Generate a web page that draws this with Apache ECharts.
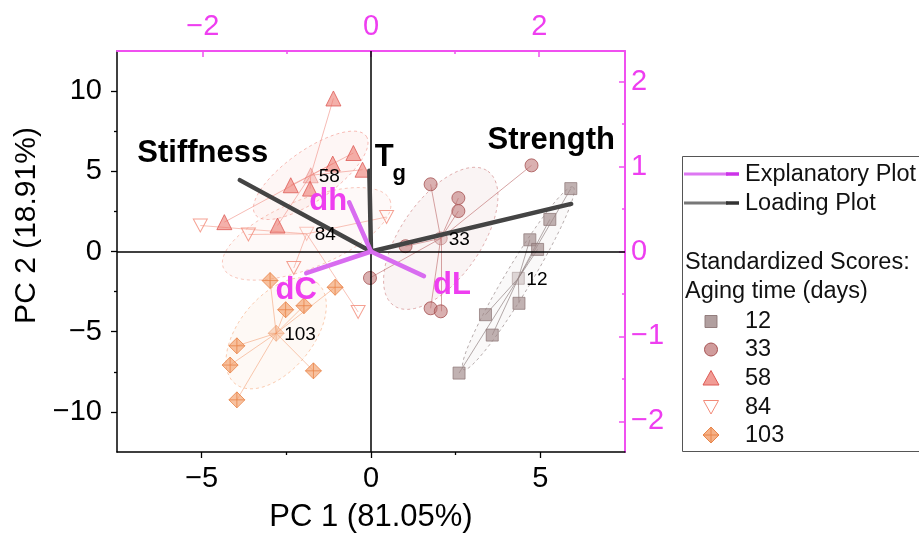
<!DOCTYPE html>
<html><head><meta charset="utf-8">
<script src="https://cdn.jsdelivr.net/npm/echarts@6/dist/echarts.min.js"></script>
<style>html,body{margin:0;padding:0;background:#fff}#c{width:919px;height:538px}</style>
</head><body><div id="c"></div>
<script>
// ---------- data ----------
const groups = ['12', '33', '58', '84', '103'];
const pc1_12 = [5.9, 5.28, 4.69, 4.92, 4.37, 3.38, 3.58, 2.6];
const pc2_12 = [3.92, 2.0, 0.73, 0.13, -3.23, -3.94, -5.21, -7.58];
const pc1_33 = [4.74, 1.76, 2.58, 2.58, 1.02, -0.03, 1.76, 2.06];
const pc2_33 = [5.37, 4.19, 3.33, 2.52, 0.33, -1.65, -3.54, -3.73];
const pc1_58 = [-1.11, -0.52, -1.13, -0.25, -2.37, -1.8, -4.33, -2.76];
const pc2_58 = [9.54, 6.14, 5.48, 5.1, 4.13, 3.92, 1.83, 1.62];
const pc1_84 = [-5.04, -3.62, 0.46, -2.28, -0.38];
const pc2_84 = [1.62, 1.06, 2.15, -1.03, -3.77];
const pc1_103 = [-2.98, -1.06, -2.52, -1.98, -3.96, -4.16, -1.7, -3.96];
const pc2_103 = [-1.81, -2.23, -3.63, -3.38, -5.88, -7.08, -7.44, -9.25];
// group centroids [PC1, PC2]
const centroidPC1 = [4.35, 2.06, -1.78, -1.9, -2.8];
const centroidPC2 = [-1.67, 0.82, 4.75, 1.1, -5.1];
// confidence-ellipse semi-axis vectors (PC units)
const ellipseA = [[1.62, 5.69], [1.39, 4.19], [1.64, 2.44], [2.46, 2.11], [1.22, 3.13]];
const ellipseB = [[0.33, -0.42], [0.96, -1.44], [0.42, -1.28], [0.375, -1.97], [0.84, -1.48]];
// loading plot vectors (top / right axes)
const loadNames = ['Stiffness', 'Strength', 'Tg'];
const loadX = [-1.56, 2.38, -0.02];
const loadY = [0.84, 0.56, 0.95];
// explanatory plot vectors
const explNames = ['dh', 'dC', 'dL'];
const explX = [-0.26, -0.77, 0.63];
const explY = [0.58, -0.255, -0.29];
// tick labels
const pc1Ticks = [-5, 0, 5];
const pc2Ticks = [-10, -5, 0, 5, 10];
const topTicks = [-2, 0, 2];
const rightTicks = [-2, -1, 0, 1, 2];

// ---------- styles ----------
const FONT = "'Liberation Sans', Arial, sans-serif";
const MAG = '#ee3ef0';
const MAGAXIS = '#f050f0';
const pcX = [pc1_12, pc1_33, pc1_58, pc1_84, pc1_103];
const pcY = [pc2_12, pc2_33, pc2_58, pc2_84, pc2_103];
const symbols = ['rect', 'circle', 'triangle', 'path://M0,0L2,0L1,1.8Z',
  'path://M1,0L2,1L1,2L0,1Z M1,0L1,2 M0,1L2,1'];
const symSizes = [12, 13, 15, [14, 13], 16];
const fills = ['rgba(160,138,138,0.82)', 'rgba(190,118,118,0.72)', 'rgba(236,118,108,0.72)', 'rgba(255,255,255,0)', 'rgba(242,158,105,0.8)'];
const cFills = ['rgba(160,138,138,0.4)', 'rgba(190,118,118,0.4)', 'rgba(236,118,108,0.4)', 'rgba(255,255,255,0)', 'rgba(242,158,105,0.45)'];
const borders = ['rgba(140,118,118,0.9)', '#a65252', '#dd5a55', '#f28a78', '#e8854a'];
const cBorders = ['rgba(140,118,118,0.5)', 'rgba(166,82,82,0.5)', 'rgba(221,90,85,0.5)', 'rgba(242,138,120,0.6)', 'rgba(232,133,74,0.5)'];
const starCols = ['#8f7f7f', '#c27777', '#f29a92', '#f5a595', '#f5ae88'];
const ellFill = ['rgba(150,130,130,0.05)', 'rgba(200,130,130,0.09)', 'rgba(240,140,130,0.08)', 'rgba(240,150,130,0.06)', 'rgba(245,170,120,0.07)'];
const ellStroke = ['rgba(120,100,100,0.6)', 'rgba(200,110,110,0.6)', 'rgba(240,130,120,0.6)', 'rgba(240,140,120,0.55)', 'rgba(245,160,110,0.6)'];

const fmt = v => (v < 0 ? '\u2212' + Math.abs(v) : String(v));

const series = [];
groups.forEach((g, i) => {
  const cx = centroidPC1[i], cy = centroidPC2[i];
  const a = ellipseA[i], b = ellipseB[i];
  series.push({
    type: 'custom', xAxisIndex: 0, yAxisIndex: 0, z: 1, silent: true,
    data: [[cx, cy]],
    renderItem: (params, api) => {
      const pts = [];
      for (let k = 0; k <= 90; k++) {
        const t = k / 90 * 2 * Math.PI;
        pts.push(api.coord([cx + a[0] * Math.cos(t) + b[0] * Math.sin(t), cy + a[1] * Math.cos(t) + b[1] * Math.sin(t)]));
      }
      return { type: 'polygon', shape: { points: pts },
        style: { fill: ellFill[i], stroke: ellStroke[i], lineWidth: 0.9, lineDash: [3, 3] } };
    }
  });
  series.push({
    type: 'lines', coordinateSystem: 'cartesian2d', xAxisIndex: 0, yAxisIndex: 0, z: 2, silent: true,
    data: pcX[i].map((x, k) => ({ coords: [[cx, cy], [x, pcY[i][k]]] })),
    lineStyle: { color: starCols[i], width: 0.8, opacity: 0.85 }
  });
  series.push({
    type: 'scatter', xAxisIndex: 0, yAxisIndex: 0, z: 3, silent: true,
    symbol: symbols[i], symbolSize: symSizes[i],
    data: pcX[i].map((x, k) => [x, pcY[i][k]]),
    itemStyle: { color: fills[i], borderColor: borders[i], borderWidth: 1 }
  });
  series.push({
    type: 'scatter', xAxisIndex: 0, yAxisIndex: 0, z: 3, silent: true,
    symbol: symbols[i], symbolSize: symSizes[i],
    data: [[cx, cy]],
    itemStyle: { color: cFills[i], borderColor: cBorders[i], borderWidth: 1 }
  });
});

// centroid labels
series.push({
  type: 'custom', xAxisIndex: 0, yAxisIndex: 0, z: 8, silent: true,
  data: centroidPC1.map((x, i) => [x, centroidPC2[i]]),
  renderItem: (params, api) => {
    const p = api.coord([api.value(0), api.value(1)]);
    return { type: 'text', x: p[0] + 8, y: p[1] + 1,
      style: { text: groups[params.dataIndex], font: '19px ' + FONT, fill: '#000', align: 'left', verticalAlign: 'middle' } };
  }
});

// zero lines
series.push({
  type: 'line', xAxisIndex: 0, yAxisIndex: 0, data: [], silent: true,
  markLine: { silent: true, symbol: 'none', animation: false, label: { show: false },
    lineStyle: { color: '#000', width: 1.5, type: 'solid' },
    data: [{ xAxis: 0 }, { yAxis: 0 }] }
});

// vectors
loadNames.forEach((n, i) => series.push({
  type: 'line', xAxisIndex: 1, yAxisIndex: 1, z: 6, silent: true, symbol: 'none',
  data: [[0, 0], [loadX[i], loadY[i]]],
  lineStyle: { color: '#444', width: 4.5, cap: 'round' }
}));
explNames.forEach((n, i) => series.push({
  type: 'line', xAxisIndex: 1, yAxisIndex: 1, z: 6, silent: true, symbol: 'none',
  data: [[0, 0], [explX[i], explY[i]]],
  lineStyle: { color: '#d86cf0', width: 4.5, cap: 'round' }
}));

// vector labels, anchored at vector tips
const vecLabels = [
  { x: loadX[0], y: loadY[0], text: 'Stiffness', dx: -37, dy: -27, size: 31, color: '#000' },
  { x: loadX[1], y: loadY[1], text: 'Strength', dx: -20, dy: -63, size: 31, color: '#000' },
  { x: loadX[2], y: loadY[2], text: 'T', dx: 15, dy: -13, size: 31, color: '#000' },
  { x: loadX[2], y: loadY[2], text: 'g', dx: 30, dy: 3, size: 22, color: '#000' },
  { x: explX[0], y: explY[0], text: 'dh', dx: -21, dy: -1, size: 31, color: MAG },
  { x: explX[1], y: explY[1], text: 'dC', dx: -10, dy: 17, size: 31, color: MAG },
  { x: explX[2], y: explY[2], text: 'dL', dx: 28, dy: 9, size: 31, color: MAG }
];
series.push({
  type: 'custom', xAxisIndex: 1, yAxisIndex: 1, z: 8, silent: true,
  data: vecLabels.map(l => [l.x, l.y]),
  renderItem: (params, api) => {
    const L = vecLabels[params.dataIndex];
    const p = api.coord([api.value(0), api.value(1)]);
    return { type: 'text', x: p[0] + L.dx, y: p[1] + L.dy,
      style: { text: L.text, font: 'bold ' + L.size + 'px ' + FONT, fill: L.color, align: 'center', verticalAlign: 'middle' } };
  }
});

const axBase = { type: 'value', splitLine: { show: false }, axisLine: { onZero: false } };
const option = {
  animation: false,
  textStyle: { fontFamily: FONT },
  grid: { left: 117, top: 51, width: 508, height: 401, containLabel: false },
  xAxis: [
    Object.assign({}, axBase, {
      position: 'bottom', min: -7.5, max: 7.5,
      axisLine: { onZero: false, lineStyle: { color: '#000', width: 1.5 } },
      axisTick: { customValues: pc1Ticks, length: 6, lineStyle: { color: '#000', width: 1.3 } },
      axisLabel: { customValues: pc1Ticks, formatter: fmt, fontSize: 29, color: '#000', margin: 12 },
      name: 'PC 1 (81.05%)', nameLocation: 'middle', nameGap: 50,
      nameTextStyle: { fontSize: 31, color: '#000' }
    }),
    Object.assign({}, axBase, {
      position: 'top', min: -3.02, max: 3.02,
      axisLine: { onZero: false, lineStyle: { color: MAGAXIS, width: 2 } },
      axisTick: { customValues: topTicks, inside: true, length: 6, lineStyle: { color: MAGAXIS, width: 1.5 } },
      axisLabel: { customValues: topTicks, formatter: fmt, fontSize: 29, color: MAG, margin: 10 }
    }),
    Object.assign({}, axBase, {
      position: 'bottom', min: -7.5, max: 7.5,
      axisLine: { show: false, onZero: false },
      axisTick: { customValues: [-2.5, 2.5], length: 3, lineStyle: { color: '#000', width: 1.3 } },
      axisLabel: { show: false }
    }),
    Object.assign({}, axBase, {
      position: 'top', min: -3.02, max: 3.02,
      axisLine: { show: false, onZero: false },
      axisTick: { customValues: [-1, 1], inside: true, length: 3, lineStyle: { color: MAGAXIS, width: 1.5 } },
      axisLabel: { show: false }
    })
  ],
  yAxis: [
    Object.assign({}, axBase, {
      position: 'left', min: -12.5, max: 12.5,
      axisLine: { onZero: false, lineStyle: { color: '#000', width: 1.5 } },
      axisTick: { customValues: pc2Ticks, length: 6, lineStyle: { color: '#000', width: 1.3 } },
      axisLabel: { customValues: pc2Ticks, formatter: fmt, fontSize: 29, color: '#000', margin: 15 },
      name: 'PC 2 (18.91%)', nameLocation: 'middle', nameGap: 70, nameRotate: 90,
      nameTextStyle: { fontSize: 30, color: '#000', padding: [0, 0, 0, 52] }
    }),
    Object.assign({}, axBase, {
      position: 'right', min: -2.36, max: 2.36,
      axisLine: { onZero: false, lineStyle: { color: MAGAXIS, width: 2 } },
      axisTick: { customValues: rightTicks, inside: true, length: 6, lineStyle: { color: MAGAXIS, width: 1.5 } },
      axisLabel: { customValues: rightTicks, formatter: fmt, fontSize: 29, color: MAG, margin: 6 }
    }),
    Object.assign({}, axBase, {
      position: 'left', min: -12.5, max: 12.5,
      axisLine: { show: false, onZero: false },
      axisTick: { customValues: [-7.5, -2.5, 2.5, 7.5], length: 3, lineStyle: { color: '#000', width: 1.3 } },
      axisLabel: { show: false }
    }),
    Object.assign({}, axBase, {
      position: 'right', min: -2.36, max: 2.36,
      axisLine: { show: false, onZero: false },
      axisTick: { customValues: [-1.5, -0.5, 0.5, 1.5], inside: true, length: 3, lineStyle: { color: MAGAXIS, width: 1.5 } },
      axisLabel: { show: false }
    })
  ],
  series: series,
  graphic: [
    { type: 'rect', shape: { x: 682.5, y: 156.5, width: 260, height: 295 }, style: { fill: 'none', stroke: '#555', lineWidth: 1 } },
    { type: 'line', shape: { x1: 684, y1: 174, x2: 728, y2: 174 }, style: { stroke: '#dd77f2', lineWidth: 3 } },
    { type: 'line', shape: { x1: 726, y1: 174, x2: 739, y2: 174 }, style: { stroke: '#cc33e8', lineWidth: 3.5 } },
    { type: 'line', shape: { x1: 684, y1: 203, x2: 728, y2: 203 }, style: { stroke: '#777', lineWidth: 3 } },
    { type: 'line', shape: { x1: 726, y1: 203, x2: 739, y2: 203 }, style: { stroke: '#333', lineWidth: 3.5 } },
    { type: 'text', x: 745, y: 175, style: { text: 'Explanatory Plot', font: '23.5px ' + FONT, fill: '#111', verticalAlign: 'middle' } },
    { type: 'text', x: 745, y: 204, style: { text: 'Loading Plot', font: '23.5px ' + FONT, fill: '#111', verticalAlign: 'middle' } },
    { type: 'text', x: 685, y: 263, style: { text: 'Standardized Scores:', font: '23.5px ' + FONT, fill: '#111', verticalAlign: 'middle' } },
    { type: 'text', x: 685, y: 292, style: { text: 'Aging time (days)', font: '23.5px ' + FONT, fill: '#111', verticalAlign: 'middle' } },
    { type: 'rect', shape: { x: 705, y: 315.5, width: 12, height: 12 }, style: { fill: 'rgba(160,138,138,0.82)', stroke: 'rgba(140,118,118,0.9)', lineWidth: 1 } },
    { type: 'circle', shape: { cx: 711, cy: 349.5, r: 6.5 }, style: { fill: 'rgba(190,118,118,0.72)', stroke: '#a65252', lineWidth: 1 } },
    { type: 'polygon', shape: { points: [[711, 370.5], [719, 385], [703, 385]] }, style: { fill: 'rgba(236,118,108,0.72)', stroke: '#dd5a55', lineWidth: 1 } },
    { type: 'polygon', shape: { points: [[703.5, 400.5], [718.5, 400.5], [711, 414]] }, style: { fill: 'none', stroke: '#f28a78', lineWidth: 1 } },
    { type: 'polygon', shape: { points: [[711, 427], [719, 435], [711, 443], [703, 435]] }, style: { fill: 'rgba(242,158,105,0.8)', stroke: '#e8854a', lineWidth: 1 } },
    { type: 'line', shape: { x1: 711, y1: 427, x2: 711, y2: 443 }, style: { stroke: '#e8854a', lineWidth: 1 } },
    { type: 'line', shape: { x1: 703, y1: 435, x2: 719, y2: 435 }, style: { stroke: '#e8854a', lineWidth: 1 } },
    { type: 'text', x: 745, y: 322, style: { text: '12', font: '23.5px ' + FONT, fill: '#111', verticalAlign: 'middle' } },
    { type: 'text', x: 745, y: 350, style: { text: '33', font: '23.5px ' + FONT, fill: '#111', verticalAlign: 'middle' } },
    { type: 'text', x: 745, y: 379, style: { text: '58', font: '23.5px ' + FONT, fill: '#111', verticalAlign: 'middle' } },
    { type: 'text', x: 745, y: 408, style: { text: '84', font: '23.5px ' + FONT, fill: '#111', verticalAlign: 'middle' } },
    { type: 'text', x: 745, y: 436, style: { text: '103', font: '23.5px ' + FONT, fill: '#111', verticalAlign: 'middle' } }
  ]
};
const chart = echarts.init(document.getElementById('c'), null, { renderer: 'canvas' });
chart.setOption(option);
</script>
</body></html>
